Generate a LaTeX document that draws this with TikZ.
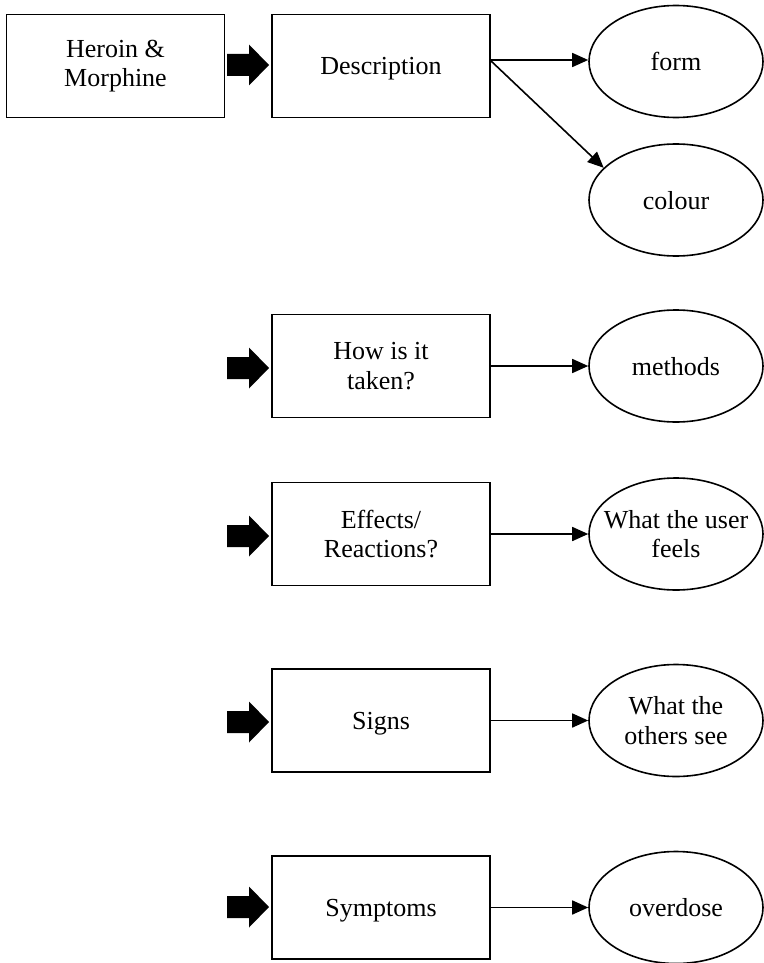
\documentclass[tikz,border=0pt]{standalone}
\usepackage{fontspec}
\setmainfont{Liberation Serif}
\usetikzlibrary{arrows.meta,shapes.geometric}
\newcommand\fatarrow[1]{\fill[black] ([shift={(-21,-11)}]#1) -- ++(22,0) -- ++(0,-9.5) -- ++(20,20.5) -- ++(-20,20.5) -- ++(0,-9.5) -- ++(-22,0) -- cycle;}
\begin{document}
\begin{tikzpicture}[x=0.5pt,y=-0.5pt,
  txt/.style={font=\fontsize{13}{14.8}\selectfont, align=center},
  sl/.style={text depth=0pt},
  box/.style={txt, draw, line width=0.8pt, minimum width=109pt, minimum height=51.5pt, inner sep=0pt},
  oval/.style={txt, draw, ellipse, line width=0.8pt, minimum width=87pt, minimum height=56pt, inner ysep=0pt, inner xsep=-14pt},
  conn/.style={line width=0.8pt, -{Triangle[length=8pt,width=7pt]}}]
\useasboundingbox (0,0) rectangle (764,963);

% row 0
\node[box] (hm) at (115.5,66) {Heroin \&\\Morphine};
\node[box,sl] (desc) at (381,66) {Description};
\node[oval,sl] (form) at (676,61.5) {form};
\node[oval,sl] (colour) at (676,200) {colour};
\coordinate (dout) at (490,60);
\draw[conn] (dout) -- (form.west |- dout);
\draw[conn] (dout) -- (colour.156);

% row 1
\node[box] (how) at (381,366) {How is it\\taken?};
\node[oval,sl] (methods) at (676,366) {methods};
\draw[conn] (how) -- (methods);

% row 2
\node[box] (eff) at (381,534) {Effects/\\Reactions?};
\node[oval] (feels) at (676,534) {What the user\\feels};
\draw[conn] (eff) -- (feels);

% row 3
\node[box,sl] (signs) at (381,720.5) {Signs};
\node[oval] (see) at (676,720.5) {What the\\others see};
\draw[conn] (signs) -- (see);

% row 4
\node[box,sl] (symp) at (381,907.5) {Symptoms};
\node[oval,sl] (od) at (676,907.5) {overdose};
\draw[conn] (symp) -- (od);

% thick arrows
\coordinate (fa0) at (248,65);
\coordinate (fa1) at (248,368);
\coordinate (fa2) at (248,536);
\coordinate (fa3) at (248,722);
\coordinate (fa4) at (248,907);
\fatarrow{fa0}
\fatarrow{fa1}
\fatarrow{fa2}
\fatarrow{fa3}
\fatarrow{fa4}
\end{tikzpicture}
\end{document}
